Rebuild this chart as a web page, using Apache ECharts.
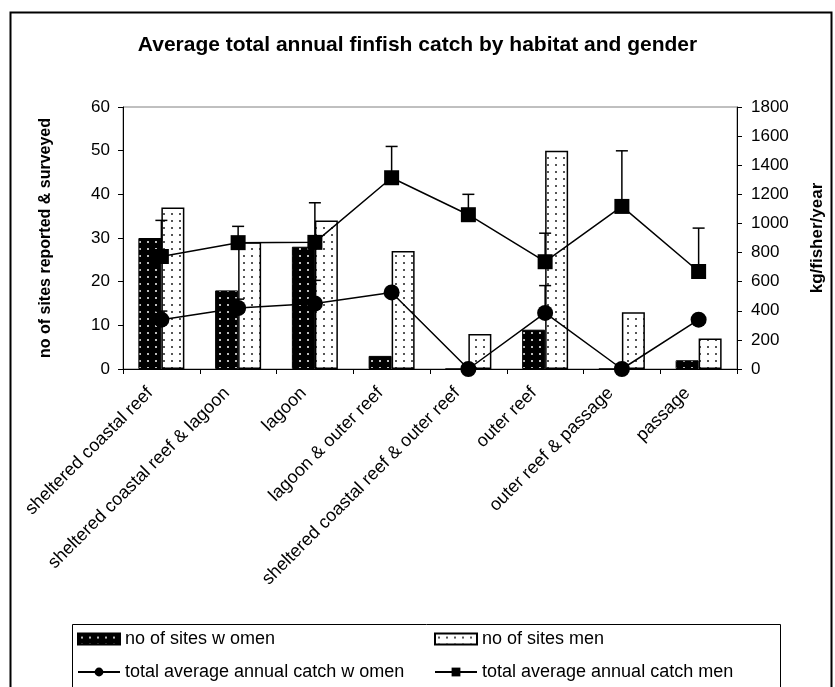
<!DOCTYPE html>
<html>
<head>
<meta charset="utf-8">
<script src="https://cdn.jsdelivr.net/npm/echarts@6/dist/echarts.min.js"></script>
<style>
html,body{margin:0;padding:0;background:#fff;}
#chart{width:835px;height:687px;}
</style>
</head>
<body>
<div id="chart"></div>
<script>
// ---- data ----
const categories = ['sheltered coastal reef','sheltered coastal reef & lagoon','lagoon','lagoon & outer reef','sheltered coastal reef & outer reef','outer reef','outer reef & passage','passage'];
const sitesWomen = [30, 18, 28, 3, 0, 9, 0, 2];
const sitesMen = [37, 29, 34, 27, 8, 50, 13, 7];
const catchWomen = [339, 419, 450, 526, 0, 385, 0, 339];
const catchMen = [773, 868, 870, 1314, 1060, 737, 1117, 670];
const errUpperWomen = [398, 480, 609, null, null, 573, null, null];
const errUpperMen = [1021, 980, 1142, 1529, 1200, 933, 1499, 968];
const leftTicks = {min: 0, max: 60, interval: 10};
const rightTicks = {min: 0, max: 1800, interval: 200};

const FONT = "'Liberation Sans', Arial, sans-serif";

function makePattern(bg, dot, w, h) {
  const c = document.createElement('canvas');
  c.width = w; c.height = h;
  const ctx = c.getContext('2d');
  ctx.fillStyle = bg; ctx.fillRect(0, 0, w, h);
  ctx.fillStyle = dot; ctx.fillRect(3, 3, 2, 2);
  return c;
}
const womenPattern = {image: makePattern('#000000', '#bdbdbd', 8, 7), repeat: 'repeat'};
const menPattern = {image: makePattern('#ffffff', '#555555', 8, 7), repeat: 'repeat'};

const errData = [];
categories.forEach((c, i) => {
  if (errUpperWomen[i] != null) errData.push([i, catchWomen[i], errUpperWomen[i]]);
  if (errUpperMen[i] != null) errData.push([i, catchMen[i], errUpperMen[i]]);
});

const chart = echarts.init(document.getElementById('chart'), null, {renderer: 'canvas'});
const legendBase = {
  top: 630, orient: 'vertical', itemGap: 15, itemWidth: 42, itemHeight: 11, padding: 0, height: 60,
  textStyle: {fontFamily: FONT, fontSize: 18, color: '#000'}
};
const option = {
  backgroundColor: '#ffffff',
  animation: false,
  textStyle: {fontFamily: FONT, color: '#000'},
  title: {
    text: 'Average total annual finfish catch by habitat and gender',
    left: 'center', top: 30,
    textStyle: {fontFamily: FONT, fontSize: 21, fontWeight: 'bold', color: '#000'}
  },
  grid: {left: 123, right: 98, top: 107, bottom: 318, show: true, borderColor: '#808080', borderWidth: 1, containLabel: false},
  legend: [
    Object.assign({}, legendBase, {
      left: 77,
      data: [
        {name: 'no of sites w omen', icon: 'rect'},
        {name: 'total average annual catch w omen'}
      ]
    }),
    Object.assign({}, legendBase, {
      left: 434,
      data: [
        {name: 'no of sites men', icon: 'rect'},
        {name: 'total average annual catch men'}
      ]
    })
  ],
  xAxis: {
    type: 'category', data: categories, boundaryGap: true,
    axisLine: {lineStyle: {color: '#000', width: 1}},
    axisTick: {show: true, inside: false, length: 5, lineStyle: {color: '#000'}},
    axisLabel: {interval: 0, rotate: 45, margin: 10, padding: [0, 16, 0, 0], fontFamily: FONT, fontSize: 18, color: '#000'},
    splitLine: {show: false}
  },
  yAxis: [
    {
      type: 'value', min: leftTicks.min, max: leftTicks.max, interval: leftTicks.interval,
      name: 'no of sites reported & surveyed', nameLocation: 'middle', nameGap: 69, nameRotate: 90,
      nameTextStyle: {fontFamily: FONT, fontSize: 16, fontWeight: 'bold', color: '#000'},
      axisLine: {show: true, lineStyle: {color: '#000', width: 1}},
      axisTick: {show: true, length: 5, lineStyle: {color: '#000'}},
      axisLabel: {margin: 13, fontFamily: FONT, fontSize: 17, color: '#000'},
      splitLine: {show: false}
    },
    {
      type: 'value', min: rightTicks.min, max: rightTicks.max, interval: rightTicks.interval,
      position: 'right',
      name: 'kg/fisher/year', nameLocation: 'middle', nameGap: 72, nameRotate: 90,
      nameTextStyle: {fontFamily: FONT, fontSize: 17, fontWeight: 'bold', color: '#000'},
      axisLine: {show: true, lineStyle: {color: '#000', width: 1}},
      axisTick: {show: true, length: 5, lineStyle: {color: '#000'}},
      axisLabel: {margin: 14, fontFamily: FONT, fontSize: 17, color: '#000', formatter: function (v) { return String(v); }},
      splitLine: {show: false}
    }
  ],
  series: [
    {
      name: 'no of sites w omen', type: 'bar', yAxisIndex: 0, data: sitesWomen,
      barWidth: 23, barGap: '0%', z: 2,
      itemStyle: {color: womenPattern, borderColor: '#000', borderWidth: 1}
    },
    {
      name: 'no of sites men', type: 'bar', yAxisIndex: 0, data: sitesMen,
      barWidth: 23, barGap: '0%', z: 2,
      itemStyle: {color: menPattern, borderColor: '#000', borderWidth: 1.5}
    },
    {
      name: 'error', type: 'custom', yAxisIndex: 1, data: errData, z: 3,
      renderItem: function (params, api) {
        const base = api.coord([api.value(0), api.value(1)]);
        const top = api.coord([api.value(0), api.value(2)]);
        const st = {stroke: '#000', lineWidth: 1.5};
        return {
          type: 'group',
          children: [
            {type: 'line', shape: {x1: base[0], y1: base[1], x2: top[0], y2: top[1]}, style: st},
            {type: 'line', shape: {x1: top[0] - 6, y1: top[1], x2: top[0] + 6, y2: top[1]}, style: st}
          ]
        };
      }
    },
    {
      name: 'total average annual catch w omen', type: 'line', yAxisIndex: 1, data: catchWomen,
      symbol: 'circle', symbolSize: 16, z: 4,
      lineStyle: {color: '#000', width: 1.5}, itemStyle: {color: '#000'}
    },
    {
      name: 'total average annual catch men', type: 'line', yAxisIndex: 1, data: catchMen,
      symbol: 'rect', symbolSize: 15, z: 4,
      lineStyle: {color: '#000', width: 1.5}, itemStyle: {color: '#000'}
    }
  ],
  graphic: [
    {type: 'rect', left: 8, top: 10, shape: {width: 821, height: 700}, style: {fill: 'none', stroke: '#000', lineWidth: 2}, silent: true},
    {type: 'rect', left: 70, top: 622, shape: {width: 708, height: 64}, style: {fill: 'none', stroke: '#000', lineWidth: 1}, silent: true}
  ]
};
chart.setOption(option);
</script>
</body>
</html>
